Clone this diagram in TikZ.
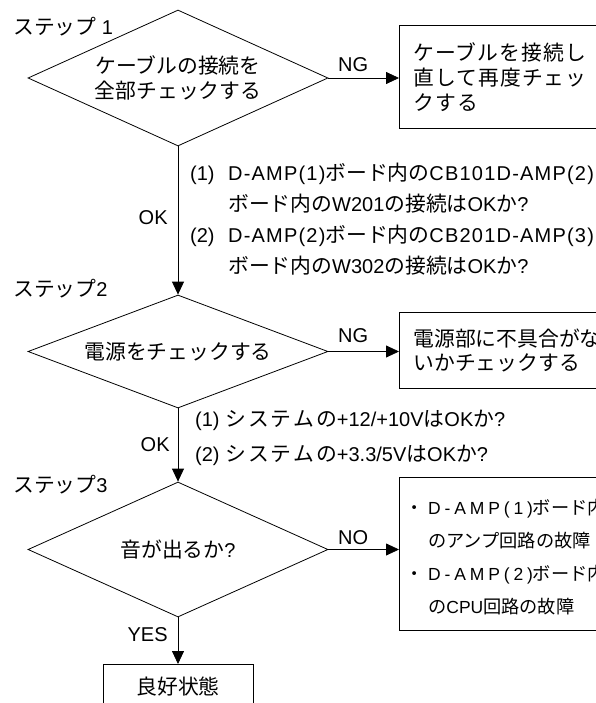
\documentclass[tikz,border=0pt]{standalone}
\usepackage{fontspec}
\setmainfont{Liberation Sans}
\newfontfamily\jp{Noto Sans CJK JP}[Scale=1.04]
\newfontfamily\jpsp{Noto Sans CJK JP}[Scale=1.04,LetterSpace=5]
\newfontfamily\jpspb{Noto Sans CJK JP}[Scale=1.04,LetterSpace=10]
\newfontfamily\lspa{Liberation Sans}[LetterSpace=6]
\newfontfamily\lspb{Liberation Sans}[LetterSpace=22]
\usetikzlibrary{shapes.geometric,arrows.meta}
\begin{document}
\begin{tikzpicture}[x=1pt,y=-1pt,
  txt/.style={font=\fontsize{20}{25}\selectfont, inner sep=0pt},
  dec/.style={draw, line width=0.8pt, shape=diamond, aspect=2.2, inner sep=0pt,
    minimum width=300pt, align=center, font=\fontsize{20}{25}\selectfont\jp},
  box/.style={draw, line width=1pt, rectangle, anchor=west, inner xsep=14pt,
    inner ysep=0pt, text width=240pt, align=left, font=\fontsize{20}{25}\selectfont},
  conn/.style={line width=0.8pt, -{Triangle[length=13pt,width=12pt]}},
  lab/.style={font=\fontsize{20}{24}\selectfont, inner sep=0pt},
]
\useasboundingbox (0,0) rectangle (596,703);
\clip (0,0) rectangle (596,703);

% step labels
\node[txt, anchor=west] (s1) at (13,27) {{\jp ステップ} 1};
\node[txt, anchor=west] (s2) at (13,289) {{\jp ステップ}2};
\node[txt, anchor=west] (s3) at (13,485) {{\jp ステップ}3};

% decisions
\node[dec, minimum height=136pt] (d1) at (178,78) {ケーブルの接続を\\全部チェックする};
\node[dec, minimum height=113pt] (d2) at (178,351.5) {電源をチェックする};
\node[dec, minimum height=135pt] (d3) at (178,549.5) {音が出るか{\rmfamily ?}};

% boxes
\node[box, minimum height=103pt] (b1) at (399,77.5) {{\jpsp ケーブルを接続し\\直して再度チェッ\\クする}};
\node[box, minimum height=76pt, font=\fontsize{20}{24}\selectfont] (b2) at (399,350) {{\jp 電源部に不具合がな\\いかチェックする}};
\node[box, minimum height=153pt] (b3) at (399,553.5) {};
\node[txt, anchor=west, align=left, font=\fontsize{17.5}{33}\selectfont] (t3) at (413,557.5)
  {\makebox[15pt][l]{\hspace*{-8pt}\jp ・}{\lspb D-AMP(1)}{\jp ボード内}\\
   \hspace*{15pt}{\jp のアンプ回路の故障}\\
   \makebox[15pt][l]{\hspace*{-8pt}\jp ・}{\lspb D-AMP(2)}{\jp ボード内}\\
   \hspace*{15pt}{\jp の}CPU{\jp 回路の故障}};
\node[draw, line width=1pt, minimum width=150pt, minimum height=44pt, anchor=north,
  font=\fontsize{20}{25}\selectfont\jp] (b4) at (178,664) {良好状態};

% condition texts
\node[txt, anchor=west, align=left, font=\fontsize{20}{31}\selectfont] (t1) at (190,219.5)
  {\makebox[38pt][l]{(1)}{\lspa D-AMP(1)}{\jp ボード内の}{\lspa CB101D-AMP(2)}\\
   \hspace*{38pt}{\jp ボード内の}W201{\jp の接続は}OK{\jp か}?\\
   \makebox[38pt][l]{(2)}{\lspa D-AMP(2)}{\jp ボード内の}{\lspa CB201D-AMP(3)}\\
   \hspace*{38pt}{\jp ボード内の}W302{\jp の接続は}OK{\jp か}?};
\node[txt, anchor=west, align=left, font=\fontsize{20}{35}\selectfont] (t2) at (195,437.5)
  {(1) {\jpspb システムの}+12/+10V{\jpspb は}OK{\jpspb か}?\\
   (2) {\jpspb システムの}+3.3/5V{\jpspb は}OK{\jpspb か}?};

% connectors
\draw[conn] (d1.east) -- (d1.east -| b1.west) node[lab, pos=0.35, above=6pt] (l1) {NG};
\draw[conn] (d1.south) -- (d2.north) node[lab, pos=0.48, left=10pt] (l2) {OK};
\draw[conn] (d2.east) -- (d2.east -| b2.west) node[lab, pos=0.35, above=8pt] (l3) {NG};
\draw[conn] (d2.south) -- (d3.north) node[lab, pos=0.5, left=8pt] (l4) {OK};
\draw[conn] (d3.east) -- (d3.east -| b3.west) node[lab, pos=0.35, above=4pt] (l5) {NO};
\draw[conn] (d3.south) -- (b4.north) node[lab, pos=0.36, left=10pt] (l6) {YES};
\end{tikzpicture}
\end{document}
